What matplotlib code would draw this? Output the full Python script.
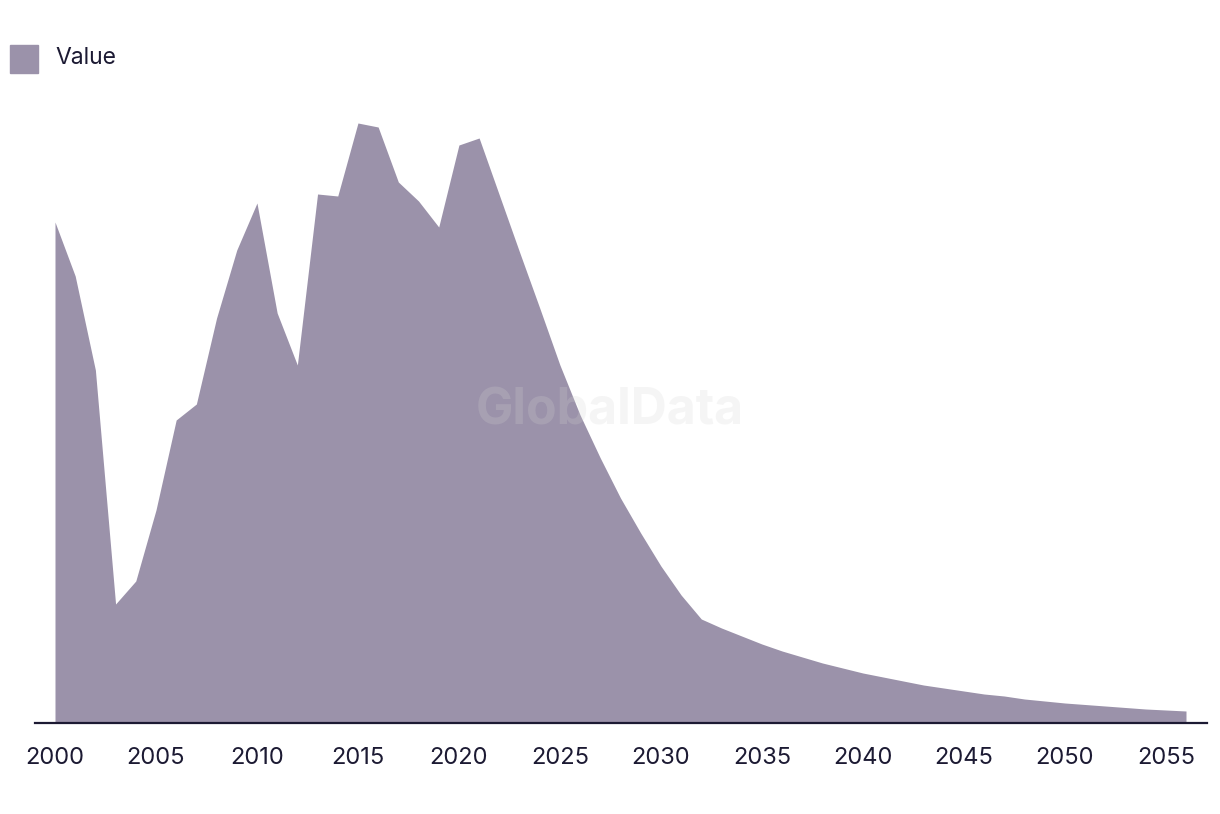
import matplotlib.pyplot as plt
from matplotlib.patches import Rectangle
import numpy as np

# Yearly values (arbitrary units)
years = list(range(2000, 2057))
values = [501, 447, 353, 119, 142, 213, 303, 319, 405, 473,
          520, 410, 358, 529, 527, 600, 596, 541, 522, 496,
          578, 585, 528, 471, 415, 358, 308, 265, 225, 190,
          157, 128, 104, 95, 87, 79, 72, 66, 60, 55,
          50, 46, 42, 38, 35, 32, 29, 27, 24, 22,
          20, 18.5, 17, 15.5, 14, 13, 12]
tick_years = list(range(2000, 2056, 5))

area_color = '#9b92aa'
text_color = '#1c1a33'

plt.rcParams['font.family'] = ['Inter', 'DejaVu Sans']

fig = plt.figure(figsize=(12.2, 8.14), dpi=100)
ax = fig.add_axes([35 / 1220, 91 / 814, 1172 / 1220, 623 / 814])

ax.fill_between(years, values, 0, color=area_color, linewidth=0)

ax.set_xlim(1999.01, 2057.04)
ax.set_ylim(0, 623)
ax.set_xticks(tick_years)
ax.set_xticklabels([str(y) for y in tick_years], fontsize=17, color=text_color)
ax.tick_params(axis='x', length=0, pad=17)
ax.set_yticks([])

for side in ['top', 'right', 'left']:
    ax.spines[side].set_visible(False)
ax.spines['bottom'].set_color(text_color)
ax.spines['bottom'].set_linewidth(1.6)

# watermark
fig.text(610 / 1220, 1 - 411 / 814, 'GlobalData', ha='center', va='center',
         fontsize=36, fontweight='bold', color='lightgray', alpha=0.22, zorder=5)

# legend
fig.patches.append(Rectangle((10 / 1220, 1 - 73 / 814), 28 / 1220, 28 / 814,
                             transform=fig.transFigure, color=area_color))
fig.text(55 / 1220, 1 - 58 / 814, 'Value', fontsize=16.5, color=text_color,
         ha='left', va='center')

fig.savefig('out.png', dpi=100)
